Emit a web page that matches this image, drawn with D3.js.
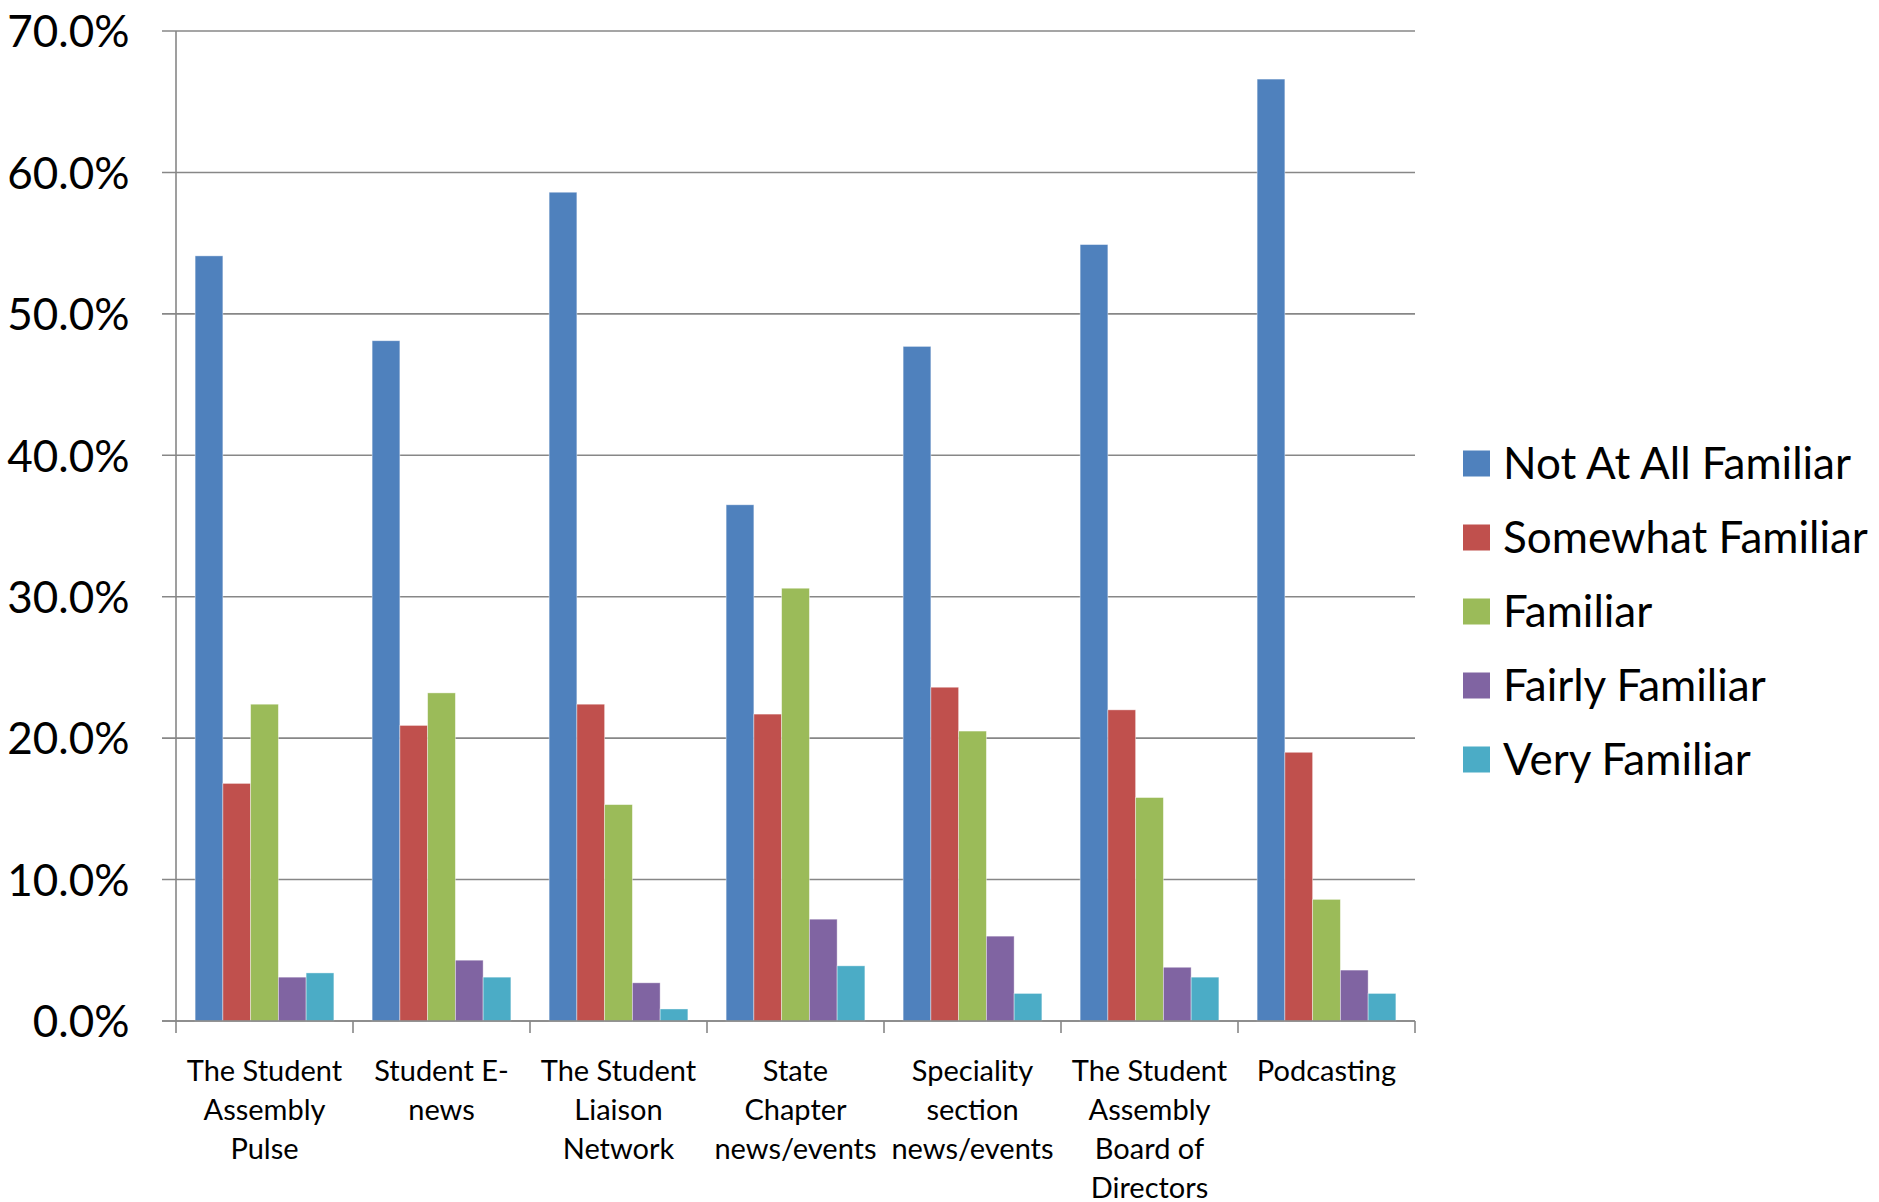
<!DOCTYPE html>
<html>
<head>
<meta charset="utf-8">
<script src="https://cdn.jsdelivr.net/npm/d3@7"></script>
<style>
  html, body { margin: 0; padding: 0; background: #fff; }
  svg { display: block; }
  text { font-family: Lato, "Open Sans", sans-serif; fill: #000; }
</style>
</head>
<body>
<svg id="chart" width="1879" height="1202"></svg>
<script>
const categories = [
  "The Student Assembly Pulse",
  "Student E-news",
  "The Student Liaison Network",
  "State Chapter news/events",
  "Speciality section news/events",
  "The Student Assembly Board of Directors",
  "Podcasting"
];
const categoryLabelLines = [
  ["The Student", "Assembly", "Pulse"],
  ["Student E-", "news"],
  ["The Student", "Liaison", "Network"],
  ["State", "Chapter", "news/events"],
  ["Speciality", "section", "news/events"],
  ["The Student", "Assembly", "Board of", "Directors"],
  ["Podcasting"]
];
const seriesNames = ["Not At All Familiar", "Somewhat Familiar", "Familiar", "Fairly Familiar", "Very Familiar"];
const notAtAllFamiliar = [54.1, 48.1, 58.6, 36.5, 47.7, 54.9, 66.6];
const somewhatFamiliar = [16.8, 20.9, 22.4, 21.7, 23.6, 22.0, 19.0];
const familiar         = [22.4, 23.2, 15.3, 30.6, 20.5, 15.8, 8.6];
const fairlyFamiliar   = [3.1, 4.3, 2.7, 7.2, 6.0, 3.8, 3.6];
const veryFamiliar     = [3.4, 3.1, 0.85, 3.9, 1.95, 3.1, 1.95];
const yTicks = [0, 10, 20, 30, 40, 50, 60, 70];
const seriesColors = ["#4F81BD", "#C0504D", "#9BBB59", "#8064A2", "#4BACC6"];

const seriesValues = [notAtAllFamiliar, somewhatFamiliar, familiar, fairlyFamiliar, veryFamiliar];

const svg = d3.select("#chart");
const pLeft = 176, pRight = 1415, pTop = 31, pBottom = 1021;

const x0 = d3.scaleBand().domain(categories).range([pLeft, pRight]).paddingInner(0).paddingOuter(0);
const bw = x0.bandwidth();
const x1 = d3.scaleBand().domain(seriesNames).range([bw * 0.108, bw * 0.892]).padding(0);
const y = d3.scaleLinear().domain([0, 70]).range([pBottom, pTop]);
const color = d3.scaleOrdinal().domain(seriesNames).range(seriesColors);

// gridlines
svg.append("g")
  .selectAll("line")
  .data(yTicks)
  .join("line")
  .attr("x1", pLeft - 14).attr("x2", pRight)
  .attr("y1", d => y(d)).attr("y2", d => y(d))
  .attr("stroke", "#878787").attr("stroke-width", 1.6);

// bars
const groups = svg.append("g")
  .selectAll("g")
  .data(categories)
  .join("g")
  .attr("transform", d => `translate(${x0(d)},0)`);

groups.selectAll("rect")
  .data((c, i) => seriesNames.map((s, j) => ({ s, v: seriesValues[j][i] })))
  .join("rect")
  .attr("x", d => x1(d.s))
  .attr("width", x1.bandwidth())
  .attr("y", d => y(d.v))
  .attr("height", d => y(0) - y(d.v))
  .attr("fill", d => color(d.s))
  .attr("stroke", "rgba(255,255,255,0.5)")
  .attr("stroke-width", 0.8);

// y axis
const yAxis = d3.axisLeft(y).tickValues(yTicks).tickSize(0).tickPadding(0)
  .tickFormat(d => d.toFixed(1) + "%");
const yg = svg.append("g").attr("transform", `translate(${pLeft},0)`).call(yAxis);
yg.select(".domain").remove();
yg.selectAll("text")
  .attr("x", 129.5 - pLeft)
  .attr("dy", "0.36em")
  .style("font-size", "44px")
  .style("font-family", "Lato, sans-serif")
  .attr("fill", "#000");
svg.append("line")
  .attr("x1", pLeft).attr("x2", pLeft)
  .attr("y1", pTop).attr("y2", pBottom)
  .attr("stroke", "#878787").attr("stroke-width", 1.6);

// x axis line & ticks
svg.append("line")
  .attr("x1", pLeft - 14).attr("x2", pRight)
  .attr("y1", pBottom).attr("y2", pBottom)
  .attr("stroke", "#878787").attr("stroke-width", 1.6);
const boundaries = categories.map(c => x0(c)).concat([pRight]);
svg.append("g").selectAll("line")
  .data(boundaries)
  .join("line")
  .attr("x1", d => d).attr("x2", d => d)
  .attr("y1", pBottom).attr("y2", pBottom + 12)
  .attr("stroke", "#878787").attr("stroke-width", 1.6);

// category labels
const labelG = svg.append("g");
categories.forEach((c, i) => {
  const t = labelG.append("text")
    .attr("text-anchor", "middle")
    .style("font-size", "29px");
  categoryLabelLines[i].forEach((line, k) => {
    t.append("tspan")
      .attr("x", x0(c) + bw / 2)
      .attr("y", 1081 + k * 39)
      .text(line);
  });
});

// legend
const legend = svg.append("g");
const lg = legend.selectAll("g")
  .data(seriesNames)
  .join("g")
  .attr("transform", (d, i) => `translate(1463, ${463.5 + i * 74})`);
lg.append("rect")
  .attr("x", 0).attr("y", -13)
  .attr("width", 27).attr("height", 26)
  .attr("fill", d => color(d));
lg.append("text")
  .attr("x", 40)
  .attr("dy", "0.36em")
  .style("font-size", "44px")
  .text(d => d);
</script>
</body>
</html>
